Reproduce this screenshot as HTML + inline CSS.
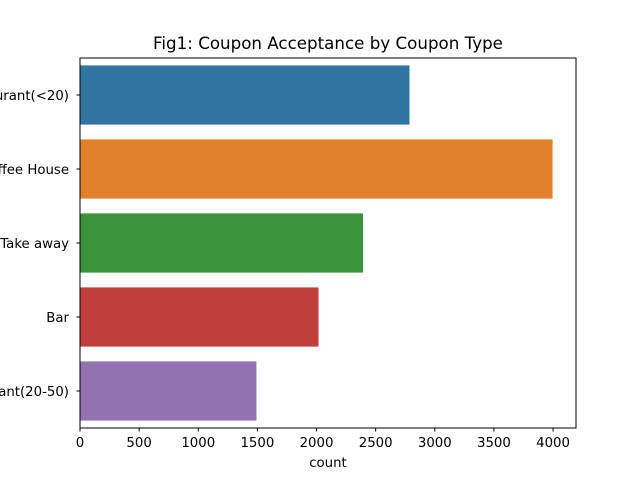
<!DOCTYPE html>
<html><head><meta charset="utf-8"><style>
body{margin:0;background:#fff;}
svg{display:block;font-family:"DejaVu Sans","Liberation Sans",sans-serif;}
</style></head><body>
<svg id="chart" width="640" height="480">
<rect width="640" height="480" fill="#fff"/>
<text x="328" y="49" text-anchor="middle" font-size="16.7">Fig1: Coupon Acceptance by Coupon Type</text>
<g id="bars"></g>
<g id="xaxis"></g>
<g id="yaxis"></g>
<rect x="80" y="58" width="496" height="370" fill="none" stroke="#000" stroke-width="1"/>
<text x="328" y="467" text-anchor="middle" font-size="13.3">count</text>
</svg>
<script>
const categories=["Restaurant(<20)","Coffee House","Take away","Bar","Restaurant(20-50)"];
const counts=[2786,3996,2393,2017,1492];
const colors=["#3274a1","#e1812c","#3a923a","#c03d3e","#9372b2"];
const xTicks=[0,500,1000,1500,2000,2500,3000,3500,4000];
const NS="http://www.w3.org/2000/svg";
const L=80,R=576,T=58,B=428,XMAX=4194;
const xs=v=>L+v/XMAX*(R-L);
const band=(B-T)/categories.length;
const ys=i=>T+i*band;
function mk(t,a,p){const e=document.createElementNS(NS,t);for(const k in a)e.setAttribute(k,a[k]);p.appendChild(e);return e;}
const gb=document.getElementById('bars'),gx=document.getElementById('xaxis'),gy=document.getElementById('yaxis');
categories.forEach((c,i)=>{
 const r=mk('rect',{x:xs(0),y:ys(i)+band*0.1,width:xs(counts[i])-xs(0),height:band*0.8,fill:colors[i]},gb);
 
 
 const yc=ys(i)+band/2;
 mk('line',{x1:L-3.5,x2:L,y1:yc,y2:yc,stroke:'#000'},gy);
 const t=mk('text',{x:L-11,y:yc+5,'text-anchor':'end','font-size':'13.3'},gy);
 t.textContent=c;
 
 
});
xTicks.forEach(v=>{
 const x=xs(v);
 mk('line',{x1:x,x2:x,y1:B,y2:B+3.5,stroke:'#000'},gx);
 const t=mk('text',{x:x,y:B+19,'text-anchor':'middle','font-size':'13.3'},gx);
 t.textContent=v;
 
 
});
</script>
</body></html>
